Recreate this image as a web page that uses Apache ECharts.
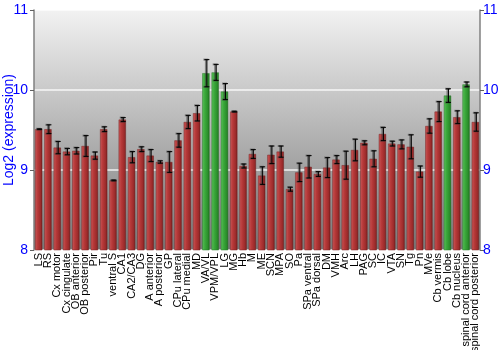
<!DOCTYPE html>
<html><head><meta charset="utf-8">
<script src="https://cdn.jsdelivr.net/npm/echarts@6/dist/echarts.min.js"></script>
<style>html,body{margin:0;padding:0;background:#fff}#c{width:500px;height:350px}</style>
</head><body><div id="c"></div>
<script>
const categories = ["LS","RS","Cx motor","Cx cingulate","OB anterior","OB posterior","Pir","Tu","ventral S","CA1","CA2/CA3","DG","A anterior","A posterior","GP","CPu lateral","CPu medial","MD","VA/VL","VPM/VPL","LG","MG","Hb","M","ME","SCN","MPA","SO","Pa","SPa ventral","SPa dorsal","DM","VMH","Arc","LH","PAG","SC","IC","VTA","SN","Tg","Pn","MVe","Cb vermis","Cb lobe","Cb nucleus","spinal cord anterior","spinal cord posterior"];
const values = [9.51,9.51,9.28,9.23,9.24,9.30,9.18,9.51,8.87,9.63,9.16,9.26,9.18,9.10,9.10,9.37,9.60,9.71,10.21,10.22,9.98,9.73,9.05,9.20,8.93,9.19,9.23,8.76,8.97,9.04,8.95,9.03,9.13,9.06,9.25,9.34,9.14,9.45,9.33,9.32,9.29,8.98,9.55,9.73,9.93,9.66,10.07,9.60];
const errors = [0.005,0.055,0.077,0.04,0.04,0.13,0.045,0.03,0.005,0.025,0.07,0.03,0.075,0.015,0.13,0.085,0.083,0.097,0.17,0.1,0.1,0.005,0.025,0.055,0.11,0.11,0.07,0.025,0.115,0.14,0.03,0.125,0.05,0.175,0.135,0.025,0.10,0.083,0.03,0.056,0.15,0.07,0.09,0.125,0.085,0.08,0.03,0.115];
const highlighted = ["VA/VL","VPM/VPL","LG","Cb lobe","spinal cord anterior"];
const yTicks = [8,9,10,11];

const redGrad = new echarts.graphic.LinearGradient(0,0,1,0,[
  {offset:0,color:'#c85a5a'},{offset:0.35,color:'#b83a3a'},{offset:0.8,color:'#9a2a2a'},{offset:1,color:'#6e1c1c'}]);
const greenGrad = new echarts.graphic.LinearGradient(0,0,1,0,[
  {offset:0,color:'#5cc05c'},{offset:0.35,color:'#3caa3c'},{offset:0.8,color:'#2a8c2a'},{offset:1,color:'#1c661c'}]);

const barData = values.map((v,i)=>({
  value: v,
  itemStyle: {color: highlighted.includes(categories[i]) ? greenGrad : redGrad,
              borderColor: highlighted.includes(categories[i]) ? '#2a7a2a' : '#7a2424', borderWidth: 0.5}
}));
const errData = values.map((v,i)=>[i, v - errors[i], v + errors[i]]);

const chart = echarts.init(document.getElementById('c'), null, {renderer:'canvas'});
const axisLabelStyle = {color:'#0000ff', fontSize:14, fontFamily:'Liberation Sans, Arial, sans-serif'};
chart.setOption({
  animation:false,
  grid:{left:34,right:20,top:10,bottom:100,show:true,borderWidth:0,containLabel:false,outerBoundsMode:'none',
    backgroundColor:new echarts.graphic.LinearGradient(0,0,0,1,[{offset:0,color:'#f2f2f2'},{offset:1,color:'#787878'}])},
  xAxis:{type:'category',data:categories,
    axisLine:{show:false},axisTick:{show:false},
    axisLabel:{rotate:90,interval:0,fontSize:11,color:'#000',margin:3,fontFamily:'Liberation Sans, Arial, sans-serif'}},
  yAxis:[
    {type:'value',min:yTicks[0],max:yTicks[yTicks.length-1],interval:1,
     name:'Log2 (expression)',nameLocation:'middle',nameGap:18,nameRotate:90,nameMoveOverlap:false,
     nameTextStyle:{color:'#0000ff',fontSize:14,fontFamily:'Liberation Sans, Arial, sans-serif'},
     axisLine:{show:true,lineStyle:{color:'#808080',width:1.5}},
     axisTick:{show:true,inside:false,length:4,lineStyle:{color:'#606060'}},
     axisLabel:Object.assign({margin:6},axisLabelStyle),
     splitLine:{show:true,lineStyle:{color:'#ffffff',width:1.5,opacity:0.85}}},
    {type:'value',min:yTicks[0],max:yTicks[yTicks.length-1],interval:1,position:'right',
     axisLine:{show:true,lineStyle:{color:'#808080',width:1.5}},
     axisTick:{show:true,length:4,lineStyle:{color:'#606060'}},
     axisLabel:Object.assign({margin:3},axisLabelStyle),
     splitLine:{show:false}}
  ],
  series:[
    {type:'bar',data:barData,barCategoryGap:'22%',z:2},
    {type:'custom',z:3,data:errData,
     renderItem:function(params,api){
       const x = api.coord([api.value(0), api.value(1)])[0];
       const lo = api.coord([api.value(0), api.value(1)])[1];
       const hi = api.coord([api.value(0), api.value(2)])[1];
       const cw = 2.5;
       const mk = (dx,dy,col,w)=>[
         {type:'line',shape:{x1:x+dx,y1:lo+dy,x2:x+dx,y2:hi+dy},style:{stroke:col,lineWidth:w}},
         {type:'line',shape:{x1:x-cw+dx,y1:lo+dy,x2:x+cw+dx,y2:lo+dy},style:{stroke:col,lineWidth:w}},
         {type:'line',shape:{x1:x-cw+dx,y1:hi+dy,x2:x+cw+dx,y2:hi+dy},style:{stroke:col,lineWidth:w}}];
       return {type:'group',children:[].concat(mk(0,0,'rgba(60,60,60,0.55)',2), mk(1,0,'#000',1))};
     }}
  ]
});
</script></body></html>
